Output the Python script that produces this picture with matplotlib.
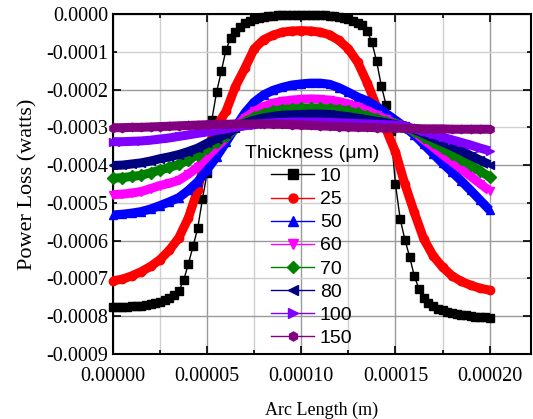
import numpy as np
import matplotlib
matplotlib.use('Agg')
import matplotlib.pyplot as plt
from matplotlib.ticker import MultipleLocator, FormatStrFormatter
from matplotlib.lines import Line2D

plt.rcParams['axes.unicode_minus'] = False

# power loss values in units of 1e-4 W
# 10 um film, sampled every 2.5e-6 m
x_10 = np.linspace(0, 0.0002, 81)
loss_10 = [-7.75, -7.75, -7.75, -7.75, -7.74, -7.73, -7.72, -7.70, -7.68, -7.66,
           -7.62, -7.57, -7.52, -7.44, -7.33, -7.05, -6.62, -6.15, -5.67, -4.90,
           -4.20, -2.80, -2.07, -1.52, -0.95, -0.64, -0.48, -0.35, -0.25, -0.18,
           -0.13, -0.10, -0.07, -0.05, -0.04, -0.03, -0.02, -0.02, -0.02, -0.02,
           -0.02, -0.02, -0.02, -0.02, -0.02, -0.03, -0.04, -0.05, -0.07, -0.10,
           -0.14, -0.19, -0.24, -0.30, -0.45, -0.75, -1.25, -1.90, -2.40, -3.10,
           -4.50, -5.42, -5.97, -6.42, -6.93, -7.28, -7.52, -7.65, -7.73, -7.80,
           -7.84, -7.88, -7.91, -7.94, -7.96, -7.98, -8.00, -8.01, -8.02, -8.03,
           -8.04]

# thicker films, sampled every 5e-6 m
x_arc = np.linspace(0, 0.0002, 41)
loss_25 = [-7.06, -7.02, -6.93, -6.82, -6.68, -6.50, -6.25, -5.92, -5.40, -4.65,
           -3.62, -2.97, -2.58, -1.92, -1.44, -0.92, -0.68, -0.56, -0.48, -0.45,
           -0.44, -0.45, -0.48, -0.55, -0.70, -0.92, -1.28, -1.82, -2.45, -3.05,
           -3.65, -4.50, -5.25, -5.95, -6.40, -6.70, -6.93, -7.08, -7.18, -7.26,
           -7.31]
loss_50 = [-5.32, -5.30, -5.27, -5.23, -5.16, -5.07, -4.97, -4.86, -4.67, -4.44,
           -4.12, -3.78, -3.40, -3.00, -2.62, -2.33, -2.14, -2.02, -1.94, -1.88,
           -1.85, -1.83, -1.83, -1.86, -1.95, -2.07, -2.20, -2.30, -2.45, -2.63,
           -2.81, -2.99, -3.20, -3.45, -3.70, -3.95, -4.18, -4.42, -4.67, -4.93,
           -5.19]
loss_60 = [-4.78, -4.77, -4.74, -4.70, -4.62, -4.54, -4.48, -4.40, -4.24, -4.05,
           -3.78, -3.52, -3.28, -3.00, -2.75, -2.58, -2.45, -2.36, -2.31, -2.28,
           -2.26, -2.25, -2.26, -2.28, -2.32, -2.38, -2.46, -2.56, -2.67, -2.79,
           -2.90, -2.96, -3.13, -3.33, -3.52, -3.72, -3.91, -4.10, -4.30, -4.49,
           -4.68]
loss_70 = [-4.35, -4.33, -4.30, -4.27, -4.20, -4.13, -4.06, -3.98, -3.86, -3.72,
           -3.55, -3.38, -3.22, -3.02, -2.85, -2.73, -2.64, -2.57, -2.53, -2.51,
           -2.50, -2.49, -2.50, -2.51, -2.53, -2.57, -2.63, -2.70, -2.77, -2.85,
           -2.92, -2.98, -3.10, -3.25, -3.40, -3.55, -3.70, -3.85, -4.00, -4.16,
           -4.31]
loss_80 = [-4.01, -4.00, -3.97, -3.94, -3.89, -3.83, -3.78, -3.72, -3.64, -3.55,
           -3.42, -3.30, -3.18, -3.03, -2.90, -2.81, -2.75, -2.71, -2.68, -2.67,
           -2.66, -2.65, -2.65, -2.66, -2.69, -2.72, -2.76, -2.80, -2.84, -2.88,
           -2.93, -2.97, -3.06, -3.17, -3.28, -3.39, -3.50, -3.62, -3.75, -3.87,
           -3.99]
loss_100 = [-3.38, -3.38, -3.37, -3.36, -3.34, -3.31, -3.28, -3.24, -3.20, -3.16,
            -3.12, -3.08, -3.04, -3.00, -2.96, -2.93, -2.90, -2.88, -2.87, -2.86,
            -2.86, -2.86, -2.86, -2.87, -2.88, -2.89, -2.90, -2.91, -2.92, -2.93,
            -2.94, -2.97, -3.04, -3.11, -3.18, -3.26, -3.33, -3.40, -3.47, -3.55,
            -3.62]
loss_150 = [-3.01, -3.01, -3.00, -3.00, -2.99, -2.98, -2.97, -2.96, -2.95, -2.94,
            -2.93, -2.92, -2.92, -2.91, -2.91, -2.91, -2.91, -2.92, -2.92, -2.93,
            -2.94, -2.95, -2.96, -2.97, -2.98, -2.99, -3.00, -3.00, -3.01, -3.02,
            -3.02, -3.03, -3.03, -3.04, -3.04, -3.04, -3.05, -3.05, -3.05, -3.05,
            -3.05]

thick_labels = ['10', '25', '50', '60', '70', '80', '100', '150']
colors = ['#000000', '#ff0000', '#0000ff', '#ff00ff', '#008000', '#000080', '#8000ff', '#800080']
markers = ['s', 'o', '^', 'v', 'D', '<', '>', 'h']

fig = plt.figure(figsize=(5.33, 4.19), dpi=100)
ax = fig.add_axes([113 / 533, 1 - 354 / 419, 418 / 533, 340 / 419])

# 10 um: separate squares joined by a thin line
ax.plot(x_10, np.array(loss_10) * 1e-4, color=colors[0], lw=1, marker='s', ms=5.5,
        clip_on=False, zorder=3)

series = [loss_25, loss_50, loss_60, loss_70, loss_80, loss_100, loss_150]
for i, vals in enumerate(series):
    c = colors[i + 1]
    y = np.array(vals) * 1e-4
    ax.plot(x_arc, y, color=c, lw=6.5, solid_capstyle='butt', clip_on=False, zorder=3)
    ax.plot(x_arc, y, color=c, lw=0, marker=markers[i + 1], ms=6, clip_on=False, zorder=3)

ax.set_xlim(0, 0.000222)
ax.set_ylim(-0.0009, 0.0)

ax.xaxis.set_major_locator(MultipleLocator(0.00005))
ax.xaxis.set_minor_locator(MultipleLocator(0.000025))
ax.xaxis.set_major_formatter(FormatStrFormatter('%.5f'))
ax.yaxis.set_major_locator(MultipleLocator(0.0002))
ax.yaxis.set_minor_locator(MultipleLocator(0.0001))
ax.yaxis.set_major_formatter(FormatStrFormatter('%.4f'))
ax.yaxis.set_minor_formatter(FormatStrFormatter('%.4f'))

ax.grid(which='major', color='#999999', lw=1)
ax.grid(which='minor', color='#d0d0d0', lw=1)
ax.set_axisbelow(True)

for s in ax.spines.values():
    s.set_linewidth(1.5)
ax.tick_params(which='both', direction='in', top=True, right=True, width=1.2,
               labelsize=14.5, labelfontfamily='Liberation Serif')
ax.tick_params(which='major', length=6)
ax.tick_params(which='minor', length=3)
ax.tick_params(axis='x', pad=9)

ax.set_xlabel('Arc Length (m)', family='Liberation Serif', fontsize=13, labelpad=12)
ax.set_ylabel('Power Loss (watts)', family='Liberation Serif', fontsize=16, labelpad=6)

handles = [Line2D([], [], color=c, lw=1, marker=m, ms=6.5) for c, m in zip(colors, markers)]
leg = ax.legend(handles, thick_labels, title='Thickness (\u03bcm)', loc='center',
                bbox_to_anchor=(0.585, 0.413), bbox_transform=fig.transFigure,
                frameon=False, prop={'family': 'Liberation Sans', 'size': 14},
                handlelength=2.2, handletextpad=0.3, labelspacing=0.28,
                borderpad=0, title_fontproperties={'family': 'Liberation Sans', 'size': 14})

fig.savefig('out.png', dpi=100)
